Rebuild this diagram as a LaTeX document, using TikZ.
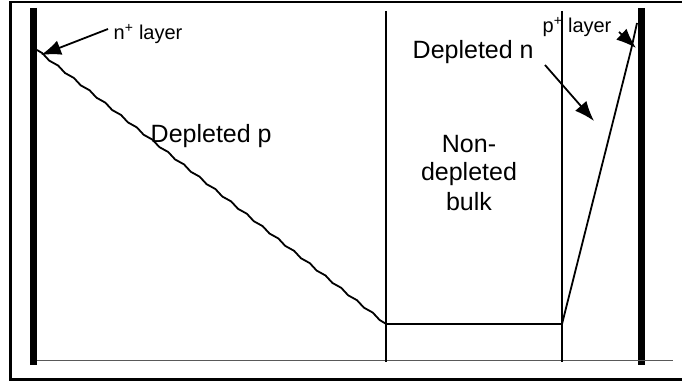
\documentclass[tikz,border=0pt]{standalone}
\usepackage{fontspec}
\setmainfont{Liberation Sans}
\usetikzlibrary{arrows.meta,decorations.pathmorphing}

\begin{document}
\begin{tikzpicture}[x=1pt, y=-1pt, >={Latex[length=20pt,width=15pt]}, line width=1.4pt,
	big/.style={font=\fontsize{25}{29}\selectfont, inner sep=0pt},
	small/.style={font=\fontsize{20}{22}\selectfont, inner sep=0pt},
	contact/.style={line width=7.5pt}]

	\useasboundingbox (0,0) rectangle (682,382);

	%% outer frame
	\draw[line width=2.5pt] (10.5,2) rectangle (700,379.5);

	%% contacts
	\draw[contact] (33.5,8) -- (33.5,365);
	\draw[contact] (641.5,8) -- (641.5,365);

	%% baseline and region borders
	\draw[line width=1pt, gray!70!black] (37,360) -- (673,360);
	\draw (386,11) -- (386,362);
	\draw (562,11) -- (562,362);

	%% field profile
	\coordinate (front) at (37,50);
	\coordinate (bulkl) at (386,324);
	\coordinate (bulkr) at (562,324);
	\coordinate (back) at (637,23);
	\draw[line width=1.8pt, decorate, decoration={snake, amplitude=0.8pt, segment length=20pt}] (front) -- (bulkl);
	\draw[line width=1.8pt] (bulkl) -- (bulkr) -- (631,50) .. controls (634,37) .. (back);

	%% labels
	\node[small, anchor=base west] (nlayer) at (113,40) {n\textsuperscript{+} layer};
	\node[small, anchor=base west] (player) at (542,33) {p\textsuperscript{+} layer};
	\node[big, anchor=base west] (depp) at (150,143) {Depleted p};
	\node[big, anchor=base west] (depn) at (412,59) {Depleted n};
	\node[big, align=center, anchor=base] (bulk) at (469,210) {Non-\\depleted\\bulk};

	%% arrows
	\coordinate (ntip) at (41,55);
	\coordinate (ptip) at (636,48);
	\coordinate (dntip) at (594,121);
	\draw[->, line width=1.8pt] (108,29) -- (ntip);
	\draw[->, line width=1.8pt] (619,32) -- (ptip);
	\draw[->, line width=1.8pt] (545,65) -- (dntip);

\end{tikzpicture}
\end{document}
